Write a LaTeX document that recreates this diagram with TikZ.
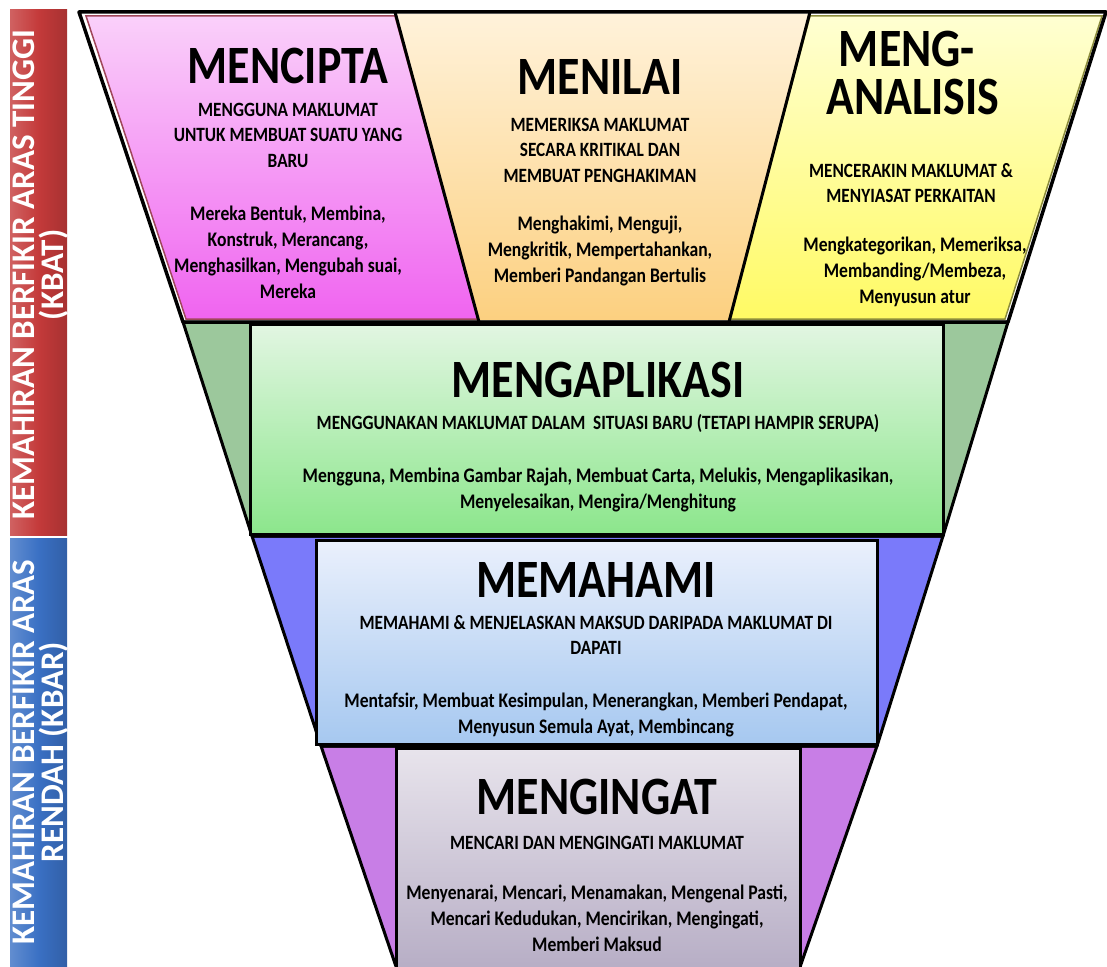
\documentclass[tikz,border=0pt]{standalone}
\usepackage{fontspec}
\setmainfont{Carlito}[FakeStretch=0.85]
\newfontfamily\sidefont{Carlito}
\usepackage{tikz}

\definecolor{barred}{RGB}{196,58,58}
\definecolor{barblue}{RGB}{58,112,196}
\definecolor{pinkT}{RGB}{250,208,250}
\definecolor{pinkB}{RGB}{240,100,240}
\definecolor{pinkline}{RGB}{160,70,90}
\definecolor{orangeT}{RGB}{255,242,218}
\definecolor{orangeB}{RGB}{252,208,128}
\definecolor{yellowT}{RGB}{255,255,210}
\definecolor{yellowB}{RGB}{255,250,100}
\definecolor{yellowline}{RGB}{140,140,60}
\definecolor{greenW}{RGB}{156,200,156}
\definecolor{greenT}{RGB}{226,246,226}
\definecolor{greenB}{RGB}{140,230,140}
\definecolor{blueW}{RGB}{122,122,250}
\definecolor{blueT}{RGB}{234,240,252}
\definecolor{blueB}{RGB}{166,200,240}
\definecolor{purpleW}{RGB}{200,126,230}
\definecolor{purpleT}{RGB}{232,228,236}
\definecolor{purpleB}{RGB}{176,166,192}

\begin{document}
\begin{tikzpicture}[x=1pt, y=-1pt,
    head/.style={font=\bfseries\fontsize{54}{48}\selectfont, align=center, inner sep=0pt},
    desc/.style={font=\bfseries\fontsize{20.3}{25.5}\selectfont, align=center, inner sep=0pt},
    verbs/.style={font=\bfseries\fontsize{20.7}{26}\selectfont, align=center, inner sep=0pt},
    side/.style={rotate=90, text=white, font=\sidefont\bfseries\fontsize{33}{29}\selectfont, align=center, inner sep=0pt},
    wedge/.style={draw=black, line width=3pt, line join=round},
    box/.style={draw=black, line width=3pt}]

  \useasboundingbox (0,0) rectangle (1107,966);
  \clip (0,0) rectangle (1107,966);

  \shade[left color=barred!80!white, right color=barred!85!black, middle color=barred] (10,10) rectangle (67,535);
  \shade[left color=barblue!80!white, right color=barblue!85!black, middle color=barblue] (10,538) rectangle (67,990);
  \node[side] (kbat) at (41,275) {KEMAHIRAN BERFIKIR ARAS TINGGI\\(KBAT)};
  \node[side] (kbar) at (41,752) {KEMAHIRAN BERFIKIR ARAS\\RENDAH (KBAR)};

  \filldraw[wedge, fill=purpleW] (321,746) -- (877,746) -- (792,990) -- (404,990) -- cycle;
  \draw[box, top color=purpleT, bottom color=purpleB] (396,748) rectangle (800,1000);

  \filldraw[wedge, fill=blueW] (252,536) -- (943,536) -- (877,746) -- (321,746) -- cycle;
  \draw[box, top color=blueT, bottom color=blueB] (316,540) rectangle (877,744);

  \filldraw[wedge, fill=greenW] (183,322) -- (1008,322) -- (943,536) -- (252,536) -- cycle;
  \draw[box, top color=greenT, bottom color=greenB] (250,324) rectangle (943,534);

  \draw[pinkline, line width=1.5pt, top color=pinkT, bottom color=pinkB] (86,16) -- (395,16) -- (478,319) -- (186,319) -- cycle;
  \shade[top color=orangeT, bottom color=orangeB] (395,14) -- (810,14) -- (729,320) -- (479,320) -- cycle;
  \draw[yellowline, line width=1.5pt, top color=yellowT, bottom color=yellowB] (810,16) -- (1102,16) -- (1005,319) -- (729,319) -- cycle;
  \draw[line width=3.5pt, line join=round] (79,12) -- (1106,12) -- (1008,322) -- (183,322) -- cycle;
  \draw[line width=3pt] (395,12) -- (479,322);
  \draw[line width=3pt] (810,12) -- (729,322);

  \node[head] (1) at (288,66) {MENCIPTA};
  \node[desc] (1a) at (288,135) {MENGGUNA MAKLUMAT\\UNTUK MEMBUAT SUATU YANG\\BARU};
  \node[verbs] (1b) at (288,252) {Mereka Bentuk, Membina,\\Konstruk, Merancang,\\Menghasilkan, Mengubah suai,\\Mereka};

  \node[head] (2) at (600,77) {MENILAI};
  \node[desc] (2a) at (600,150) {MEMERIKSA MAKLUMAT\\SECARA KRITIKAL DAN\\MEMBUAT PENGHAKIMAN};
  \node[verbs] (2b) at (600,251) {Menghakimi, Menguji,\\Mengkritik, Mempertahankan,\\Memberi Pandangan Bertulis};

  \node[head] (3) at (907,49) {MENG-};
  \node[head] (3x) at (913,97) {ANALISIS};
  \node[desc] (3a) at (911,183) {MENCERAKIN MAKLUMAT \&\\MENYIASAT PERKAITAN};
  \node[verbs] (3b) at (915,272) {Mengkategorikan, Memeriksa,\\Membanding/Membeza,\\Menyusun atur};

  \node[head] (4) at (598,380) {MENGAPLIKASI};
  \node[desc] (4a) at (598,423) {MENGGUNAKAN MAKLUMAT DALAM~ SITUASI BARU (TETAPI HAMPIR SERUPA)};
  \node[verbs] (4b) at (598,490) {Mengguna, Membina Gambar Rajah, Membuat Carta, Melukis, Mengaplikasikan,\\Menyelesaikan, Mengira/Menghitung};

  \node[head] (5) at (596,580) {MEMAHAMI};
  \node[desc] (5a) at (596,635) {MEMAHAMI \& MENJELASKAN MAKSUD DARIPADA MAKLUMAT DI\\DAPATI};
  \node[verbs] (5b) at (596,715) {Mentafsir, Membuat Kesimpulan, Menerangkan, Memberi Pendapat,\\Menyusun Semula Ayat, Membincang};

  \node[head] (6) at (597,797) {MENGINGAT};
  \node[desc] (6a) at (597,843) {MENCARI DAN MENGINGATI MAKLUMAT};
  \node[verbs] (6b) at (597,918) {Menyenarai, Mencari, Menamakan, Mengenal Pasti,\\Mencari Kedudukan, Mencirikan, Mengingati,\\Memberi Maksud};
\end{tikzpicture}
\end{document}
